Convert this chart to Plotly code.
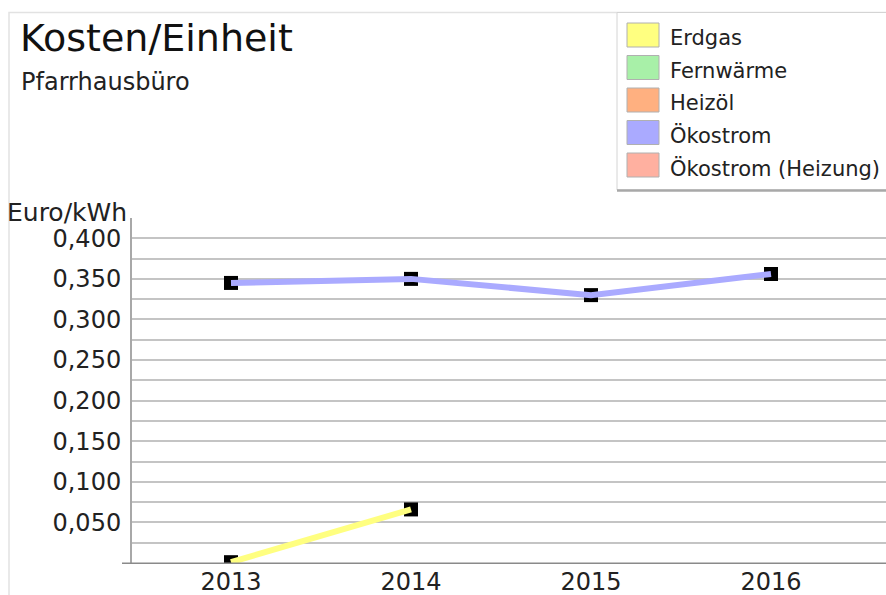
import plotly.graph_objects as go

# ---- data ----
years = [2013, 2014, 2015, 2016]
series_names = ["Erdgas", "Fernwärme", "Heizöl", "Ökostrom", "Ökostrom (Heizung)"]
series_colors = ["#FFFF80", "#A8F0A8", "#FFB080", "#AAAAFF", "#FFB0A0"]
erdgas = [0.001, 0.066, None, None]
fernwaerme = [None, None, None, None]
heizoel = [None, None, None, None]
oekostrom = [0.345, 0.350, 0.330, 0.356]
oekostrom_heizung = [None, None, None, None]
series_values = [erdgas, fernwaerme, heizoel, oekostrom, oekostrom_heizung]

y_tickvals = [0.025, 0.05, 0.075, 0.1, 0.125, 0.15, 0.175, 0.2, 0.225, 0.25,
              0.275, 0.3, 0.325, 0.35, 0.375, 0.4, 0.425]
y_ticktext = ["", "0,050", "", "0,100", "", "0,150", "", "0,200", "", "0,250",
              "", "0,300", "", "0,350", "", "0,400", ""]
x_ticktext = ["2013", "2014", "2015", "2016"]

title = "Kosten/Einheit"
subtitle = "Pfarrhausbüro"
y_title = "Euro/kWh"

# ---- layout geometry (pixels) ----
W, H = 886, 595
PL, PR, PT, PB = 132, 886, 218, 563
FONT = "DejaVu Sans"


def px(x):
    return (x - PL) / (PR - PL)


def py(y):
    return (PB - y) / (PB - PT)


fig = go.Figure()

# markers first (lines are drawn on top of them)
for name, vals in zip(series_names, series_values):
    fig.add_trace(go.Scatter(
        x=years, y=vals, mode="markers", showlegend=False, hoverinfo="skip",
        marker=dict(symbol="square", size=14, color="black"),
    ))
for name, vals, col in zip(series_names, series_values, series_colors):
    fig.add_trace(go.Scatter(
        x=years, y=vals, mode="lines", name=name, showlegend=False,
        line=dict(color=col, width=6),
    ))

shapes = []
annotations = []

# outer frame
shapes.append(dict(type="rect", xref="paper", yref="paper",
                   x0=px(9), x1=px(900), y0=py(12.5), y1=py(620),
                   line=dict(color="#e2e2e2", width=1.5), fillcolor="rgba(0,0,0,0)",
                   layer="below"))

# x-axis line extending slightly left of the y axis
shapes.append(dict(type="line", xref="paper", yref="paper",
                   x0=px(122), x1=px(886), y0=py(563.3), y1=py(563.3),
                   line=dict(color="#8a8a8a", width=1.5)))

# legend box
shapes.append(dict(type="rect", xref="paper", yref="paper",
                   x0=px(617), x1=px(895), y0=py(12.5), y1=py(190),
                   line=dict(color="#d4d4d4", width=1), fillcolor="white"))
shapes.append(dict(type="line", xref="paper", yref="paper",
                   x0=px(617), x1=px(895), y0=py(190.5), y1=py(190.5),
                   line=dict(color="#a8a8a8", width=2.5)))

for i, (name, col) in enumerate(zip(series_names, series_colors)):
    top = 23 + 32.5 * i
    shapes.append(dict(type="rect", xref="paper", yref="paper",
                       x0=px(627), x1=px(659), y0=py(top), y1=py(top + 24),
                       line=dict(color="#b0b0b0", width=1), fillcolor=col))
    annotations.append(dict(xref="paper", yref="paper", x=px(668), y=py(top + 15),
                            text=name, showarrow=False, xanchor="left", yanchor="middle",
                            font=dict(family=FONT, size=21, color="#222222")))

# titles
annotations.append(dict(xref="paper", yref="paper", x=px(18), y=py(38),
                        text=title, showarrow=False, xanchor="left", yanchor="middle",
                        font=dict(family=FONT, size=38, color="#111111")))
annotations.append(dict(xref="paper", yref="paper", x=px(19), y=py(82),
                        text=subtitle, showarrow=False, xanchor="left", yanchor="middle",
                        font=dict(family=FONT, size=24, color="#222222")))
annotations.append(dict(xref="paper", yref="paper", x=px(129), y=py(213),
                        text=y_title, showarrow=False, xanchor="right", yanchor="middle",
                        font=dict(family=FONT, size=25, color="#222222")))

fig.update_layout(
    width=W, height=H,
    margin=dict(l=PL, r=W - PR, t=PT, b=H - PB, pad=0, autoexpand=False),
    paper_bgcolor="white", plot_bgcolor="white",
    showlegend=False,
    shapes=shapes, annotations=annotations,
    xaxis=dict(
        range=[2012.45, 2016 + (886 - 771) / 180], tickvals=years, ticktext=x_ticktext,
        showgrid=False, zeroline=False, showline=False, ticks="",
        tickfont=dict(family=FONT, size=24, color="#222222"),
        ticklabelstandoff=2, fixedrange=True,
    ),
    yaxis=dict(
        range=[0, 0.425], tickvals=y_tickvals, ticktext=y_ticktext,
        showgrid=True, gridcolor="#c4c4c4", gridwidth=2,
        zeroline=False, showline=True, linecolor="#a8a8a8", linewidth=2,
        ticks="", tickfont=dict(family=FONT, size=24, color="#222222"),
        ticklabelstandoff=4, fixedrange=True,
    ),
)

fig.write_html(
    "out.html",
    config={"displayModeBar": False},
    post_script="document.body.style.margin='0';document.body.style.overflow='hidden';",
)
